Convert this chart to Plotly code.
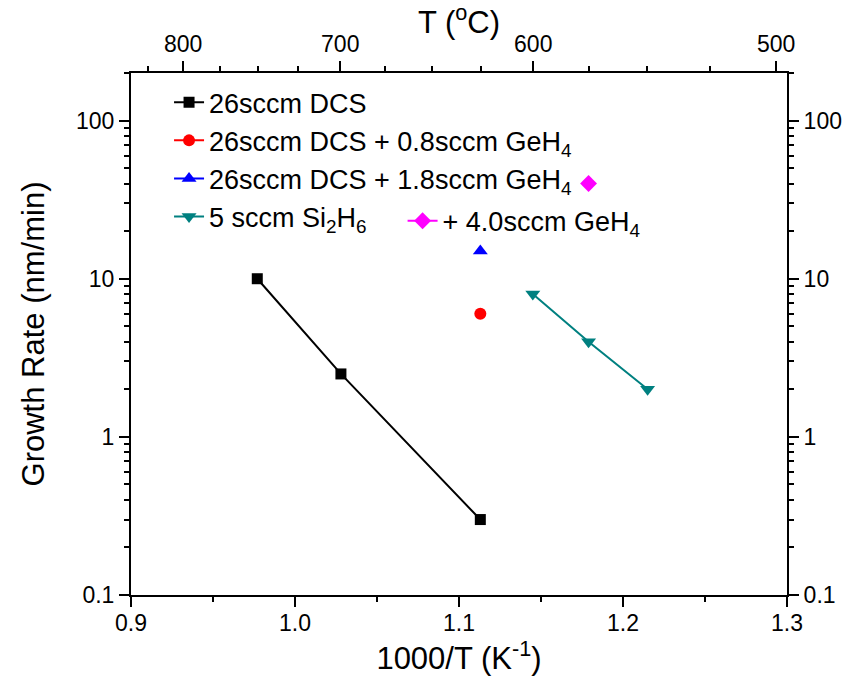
import plotly.graph_objects as go

# data
dcs_x = [0.977, 1.028, 1.113]
dcs_y = [10.0, 2.5, 0.3]
ge08_x = [1.113]
ge08_y = [6.0]
ge18_x = [1.113]
ge18_y = [15.0]
si2h6_x = [1.145, 1.179, 1.215]
si2h6_y = [8.0, 4.0, 2.0]
ge40_x = [1.179]
ge40_y = [40.0]

top_major_T = [800, 700, 600, 500]
top_minor_T = [825, 775, 750, 725, 675, 650, 625, 575, 550, 525]

FONT = "Liberation Sans, Arial, sans-serif"

def inv(T):
    return 1000.0 / (T + 273.15)

fig = go.Figure()
fig.add_trace(go.Scatter(x=dcs_x, y=dcs_y, mode="lines+markers", name="26sccm DCS",
                         legendgroup="a",
                         line=dict(color="black", width=2),
                         marker=dict(symbol="square", size=11, color="black")))
fig.add_trace(go.Scatter(x=ge08_x, y=ge08_y, mode="lines+markers",
                         name="26sccm DCS + 0.8sccm GeH<sub>4</sub>", legendgroup="b",
                         line=dict(color="#ff0000", width=2),
                         marker=dict(symbol="circle", size=12, color="#ff0000")))
fig.add_trace(go.Scatter(x=ge18_x, y=ge18_y, mode="lines+markers",
                         name="26sccm DCS + 1.8sccm GeH<sub>4</sub>", legendgroup="c",
                         line=dict(color="#0000ff", width=2),
                         marker=dict(symbol="triangle-up", size=13, color="#0000ff")))
fig.add_trace(go.Scatter(x=si2h6_x, y=si2h6_y, mode="lines+markers",
                         name="5 sccm Si<sub>2</sub>H<sub>6</sub>", legendgroup="d",
                         line=dict(color="#008080", width=2),
                         marker=dict(symbol="triangle-down", size=13, color="#008080")))
fig.add_trace(go.Scatter(x=ge40_x, y=ge40_y, mode="lines+markers",
                         name="+ 4.0sccm GeH<sub>4</sub>", legend="legend2",
                         line=dict(color="#ff00ff", width=2),
                         marker=dict(symbol="diamond", size=13, color="#ff00ff")))
# helper trace for secondary axes
fig.add_trace(go.Scatter(x=[None], y=[None], xaxis="x2", yaxis="y2",
                         showlegend=False, hoverinfo="skip"))

yrange = [-1, 2.301]
axis_common = dict(showline=True, linecolor="black", linewidth=2, ticks="outside",
                   tickcolor="black", tickwidth=2, ticklen=10, showgrid=False,
                   zeroline=False, automargin=False,
                   tickfont=dict(family=FONT, size=23, color="black"))
minor_common = dict(ticks="outside", ticklen=5, tickwidth=2, tickcolor="black", showgrid=False)

fig.update_layout(
    width=846, height=685,
    margin=dict(l=131, r=59, t=73, b=90),
    paper_bgcolor="white", plot_bgcolor="white",
    font=dict(family=FONT, color="black"),
    showlegend=True,
    xaxis=dict(range=[0.9, 1.3], tickvals=[0.9, 1.0, 1.1, 1.2, 1.3],
               ticktext=["0.9", "1.0", "1.1", "1.2", "1.3"],
               minor=dict(tickvals=[0.95, 1.05, 1.15, 1.25], **minor_common),
               ticklabelstandoff=-4,
               title=dict(text="1000/T (K<sup>-1</sup>)", font=dict(family=FONT, size=31), standoff=6),
               **axis_common),
    xaxis2=dict(range=[0.9, 1.3], overlaying="x", side="top", anchor="y",
                tickmode="array", tickvals=[inv(t) for t in top_major_T],
                ticktext=[str(t) for t in top_major_T],
                minor=dict(tickmode="array", tickvals=[inv(t) for t in top_minor_T], **minor_common),
                title=dict(text="T (<sup>o</sup>C)", font=dict(family=FONT, size=31), standoff=2),
                **axis_common),
    yaxis=dict(type="log", range=yrange, tickvals=[0.1, 1, 10, 100],
               ticktext=["0.1", "1", "10", "100"],
               minor=dict(dtick="D1", **minor_common),
               title=dict(text="Growth Rate (nm/min)", font=dict(family=FONT, size=31), standoff=22),
               **axis_common),
    yaxis2=dict(type="log", range=yrange, overlaying="y", side="right", anchor="x",
                tickvals=[0.1, 1, 10, 100], ticktext=["0.1", "1", "10", "100"],
                minor=dict(dtick="D1", **minor_common),
                **axis_common),
    legend=dict(x=0.058, y=0.99, xanchor="left", yanchor="top", bgcolor="rgba(0,0,0,0)",
                font=dict(family=FONT, size=27, color="black"), tracegroupgap=0),
    legend2=dict(x=0.414, y=0.716, xanchor="left", yanchor="middle", bgcolor="rgba(0,0,0,0)",
                 font=dict(family=FONT, size=27, color="black")),
)

fig.write_html("out.html")
